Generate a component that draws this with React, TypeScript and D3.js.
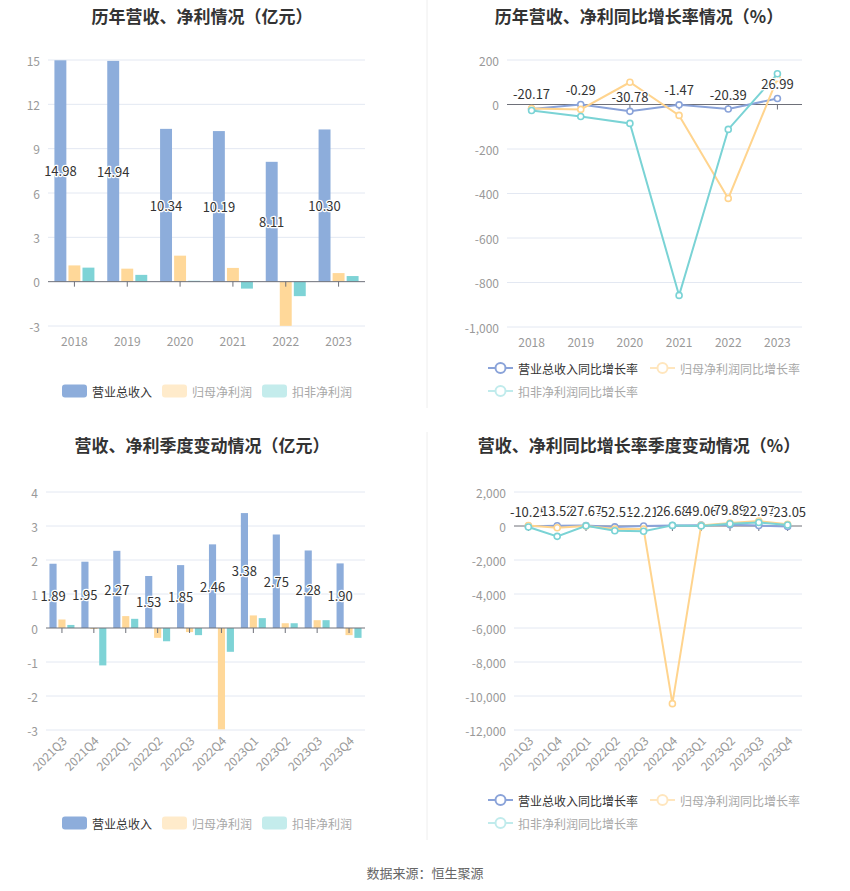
import React from 'react';
import * as d3 from 'd3';

const years = ['2018', '2019', '2020', '2021', '2022', '2023'];
const revenue = [14.98, 14.94, 10.34, 10.19, 8.11, 10.30];
const netProfit = [1.10, 0.88, 1.76, 0.93, -2.99, 0.58];
const deducted = [0.95, 0.46, 0.06, -0.47, -0.98, 0.38];

const revenueGrowth = [-20.17, -0.29, -30.78, -1.47, -20.39, 26.99];
const netProfitGrowth = [-18, -22, 100, -49, -422, 117];
const deductedGrowth = [-27, -54, -85, -858, -112, 138];

const quarters = ['2021Q3', '2021Q4', '2022Q1', '2022Q2', '2022Q3', '2022Q4', '2023Q1', '2023Q2', '2023Q3', '2023Q4'];
const qRevenue = [1.89, 1.95, 2.27, 1.53, 1.85, 2.46, 3.38, 2.75, 2.28, 1.90];
const qNetProfit = [0.25, -0.03, 0.35, -0.29, -0.12, -2.98, 0.37, 0.14, 0.23, -0.21];
const qDeducted = [0.09, -1.10, 0.27, -0.39, -0.21, -0.70, 0.29, 0.14, 0.23, -0.29];

const qRevenueGrowth = [-10.25, 13.52, 27.67, -52.51, -2.21, 26.68, 49.06, 79.89, 22.97, -23.05];
const qNetProfitGrowth = [30, -100, 0, -180, -180, -10450, 40, 180, 290, 100];
const qDeductedGrowth = [-60, -610, 10, -275, -310, 36, 7, 136, 209, 59];

const barTicksA = [-3, 0, 3, 6, 9, 12, 15];
const lineTicksA = [-1000, -800, -600, -400, -200, 0, 200];
const barTicksB = [-3, -2, -1, 0, 1, 2, 3, 4];
const lineTicksB = [-12000, -10000, -8000, -6000, -4000, -2000, 0, 2000];

const seriesNames = ['营业总收入', '归母净利润', '扣非净利润'];
const lineNames = ['营业总收入同比增长率', '归母净利润同比增长率', '扣非净利润同比增长率'];

const BLUE = '#8DADDB';
const YELLOW = '#FFD899';
const CYAN = '#7ED3D6';
const LBLUE = '#8AA3D9';
const LYELLOW = '#FFD48E';
const LCYAN = '#7AD3D5';
const COLORS = [BLUE, YELLOW, CYAN];
const FONT = '"Noto Sans CJK SC", "Noto Sans", sans-serif';
const GRID = '#E3E8F2';
const AXIS = '#6E7079';

const fmt = (v: number) => {
  const s = Math.abs(v).toLocaleString('en-US');
  return (v < 0 ? '-' : '') + s;
};

type BarProps = {
  x0: number; x1: number; yTop: number; yBot: number;
  domain: [number, number]; ticks: number[]; cats: string[];
  data: number[][]; groupHalf: number; pad: number; rotate: boolean;
};

function BarChart(p: BarProps) {
  const x = d3.scaleBand<string>().domain(p.cats).range([p.x0, p.x1]);
  const y = d3.scaleLinear().domain(p.domain).range([p.yBot, p.yTop]);
  const inner = d3.scaleBand<string>().domain(['0', '1', '2']).range([-p.groupHalf, p.groupHalf]).paddingInner(p.pad);
  const y0 = y(0);
  return (
    <g>
      {p.ticks.map((t) => (
        <g key={t}>
          {t !== 0 && <line x1={p.x0} x2={p.x1} y1={y(t)} y2={y(t)} stroke={GRID} strokeWidth={1} />}
          <text x={p.x0 - 8} y={y(t)} textAnchor="end" dominantBaseline="central" fontSize={12} fill="#999">{fmt(t)}</text>
        </g>
      ))}
      {p.data.map((series, si) =>
        series.map((v, i) => {
          const cx = (x(p.cats[i]) as number) + x.bandwidth() / 2;
          const bx = cx + (inner(String(si)) as number);
          const yy = y(v);
          return (
            <rect key={si + '-' + i} x={bx} width={inner.bandwidth()} y={Math.min(yy, y0)} height={Math.abs(yy - y0)} fill={COLORS[si]} />
          );
        })
      )}
      <line x1={p.x0} x2={p.x1} y1={y0} y2={y0} stroke={AXIS} strokeWidth={1} />
      {p.cats.map((c) => {
        const cx = (x(c) as number) + x.bandwidth() / 2;
        return <line key={c} x1={cx} x2={cx} y1={y0} y2={y0 + 5} stroke={AXIS} strokeWidth={1} />;
      })}
      {p.data[0].map((v, i) => {
        const cx = (x(p.cats[i]) as number) + x.bandwidth() / 2 + (inner('0') as number) + inner.bandwidth() / 2;
        return (
          <text key={'l' + i} x={cx} y={(y(v) + y0) / 2} textAnchor="middle" dominantBaseline="central" fontSize={13}
            fill="#333" stroke="#fff" strokeWidth={2.5} paintOrder="stroke" strokeLinejoin="round">{v.toFixed(2)}</text>
        );
      })}
      {p.cats.map((c) => {
        const cx = (x(c) as number) + x.bandwidth() / 2;
        return p.rotate ? (
          <text key={'x' + c} transform={`translate(${cx + 2},${p.yBot + 8}) rotate(-45)`} textAnchor="end" dominantBaseline="central" fontSize={12} fill="#999">{c}</text>
        ) : (
          <text key={'x' + c} x={cx} y={p.yBot + 14} textAnchor="middle" dominantBaseline="central" fontSize={12} fill="#999">{c}</text>
        );
      })}
    </g>
  );
}

type LineProps = {
  x0: number; x1: number; yTop: number; yBot: number;
  domain: [number, number]; ticks: number[]; cats: string[];
  data: number[][]; rotate: boolean;
};

function LineChart(p: LineProps) {
  const x = d3.scaleBand<string>().domain(p.cats).range([p.x0, p.x1]);
  const y = d3.scaleLinear().domain(p.domain).range([p.yBot, p.yTop]);
  const y0 = y(0);
  const cxOf = (i: number) => (x(p.cats[i]) as number) + x.bandwidth() / 2;
  const line = d3.line<number>().x((_, i) => cxOf(i)).y((v) => y(v));
  const lc = [LBLUE, LYELLOW, LCYAN];
  const order = [0, 1, 2];
  return (
    <g>
      {p.ticks.map((t) => (
        <g key={t}>
          {t !== 0 && <line x1={p.x0} x2={p.x1} y1={y(t)} y2={y(t)} stroke={GRID} strokeWidth={1} />}
          <text x={p.x0 - 8} y={y(t)} textAnchor="end" dominantBaseline="central" fontSize={12} fill="#999">{fmt(t)}</text>
        </g>
      ))}
      <line x1={p.x0} x2={p.x1} y1={y0} y2={y0} stroke={AXIS} strokeWidth={1} />
      {p.cats.map((c, i) => (
        <line key={c} x1={cxOf(i)} x2={cxOf(i)} y1={y0} y2={y0 + 5} stroke={AXIS} strokeWidth={1} />
      ))}
      {order.map((si) => (
        <g key={si}>
          <path d={line(p.data[si]) as string} fill="none" stroke={lc[si]} strokeWidth={2} />
          {p.data[si].map((v, i) => (
            <circle key={i} cx={cxOf(i)} cy={y(v)} r={3} fill="#fff" stroke={lc[si]} strokeWidth={1.6} />
          ))}
        </g>
      ))}
      {p.data[0].map((v, i) => (
        <text key={'l' + i} x={cxOf(i)} y={y(v) - 15} textAnchor="middle" dominantBaseline="central" fontSize={13}
          fill="#333" stroke="#fff" strokeWidth={2.5} paintOrder="stroke" strokeLinejoin="round">{v.toFixed(2)}</text>
      ))}
      {p.cats.map((c, i) => {
        const cx = cxOf(i);
        return p.rotate ? (
          <text key={'x' + c} transform={`translate(${cx + 2},${p.yBot + 8}) rotate(-45)`} textAnchor="end" dominantBaseline="central" fontSize={12} fill="#999">{c}</text>
        ) : (
          <text key={'x' + c} x={cx} y={p.yBot + 14} textAnchor="middle" dominantBaseline="central" fontSize={12} fill="#999">{c}</text>
        );
      })}
    </g>
  );
}

function BarLegend({ x, y }: { x: number; y: number }) {
  const fills = [BLUE, '#FFEBCB', '#C4ECEC'];
  const texts = ['#333', '#A8A8A8', '#A8A8A8'];
  return (
    <g>
      {seriesNames.map((n, i) => (
        <g key={n} transform={`translate(${x + i * 100},${y})`}>
          <rect x={0} y={-6.5} width={25} height={13} rx={3} fill={fills[i]} />
          <text x={30} y={0} dominantBaseline="central" fontSize={12} fill={texts[i]}>{n}</text>
        </g>
      ))}
    </g>
  );
}

function LineLegend({ x, y }: { x: number; y: number }) {
  const cols = [LBLUE, '#FFE6BE', '#C0EBEC'];
  const texts = ['#333', '#A8A8A8', '#A8A8A8'];
  const pos = [[x, y], [x + 162, y], [x, y + 23]];
  return (
    <g>
      {lineNames.map((n, i) => (
        <g key={n} transform={`translate(${pos[i][0]},${pos[i][1]})`}>
          <line x1={0} x2={25} y1={0} y2={0} stroke={cols[i]} strokeWidth={2} />
          <circle cx={12.5} cy={0} r={5} fill="#fff" stroke={cols[i]} strokeWidth={2} />
          <text x={30} y={0} dominantBaseline="central" fontSize={12} fill={texts[i]}>{n}</text>
        </g>
      ))}
    </g>
  );
}

export default function App() {
  return (
    <div style={{ position: 'absolute', left: 0, top: 0 }}>
      <svg width={850} height={891} style={{ display: 'block', fontFamily: FONT, background: '#fff' }}>
        <line x1={427} x2={427} y1={0} y2={408} stroke="#EEEEEE" strokeWidth={1} />
        <line x1={427} x2={427} y1={432} y2={840} stroke="#EEEEEE" strokeWidth={1} />

        <text x={202} y={15} textAnchor="middle" dominantBaseline="central" fontSize={17} fontWeight="bold" fill="#333">历年营收、净利情况（亿元）</text>
        <text x={639} y={15} textAnchor="middle" dominantBaseline="central" fontSize={17} fontWeight="bold" fill="#333">历年营收、净利同比增长率情况（%）</text>
        <text x={202} y={444} textAnchor="middle" dominantBaseline="central" fontSize={17} fontWeight="bold" fill="#333">营收、净利季度变动情况（亿元）</text>
        <text x={639} y={444} textAnchor="middle" dominantBaseline="central" fontSize={17} fontWeight="bold" fill="#333">营收、净利同比增长率季度变动情况（%）</text>

        <BarChart x0={48} x1={365} yTop={60} yBot={326} domain={[-3, 15]} ticks={barTicksA} cats={years}
          data={[revenue, netProfit, deducted]} groupHalf={20} pad={0.15} rotate={false} />
        <LineChart x0={507} x1={802} yTop={60} yBot={327} domain={[-1000, 200]} ticks={lineTicksA} cats={years}
          data={[revenueGrowth, netProfitGrowth, deductedGrowth]} rotate={false} />
        <BarChart x0={46} x1={365} yTop={492} yBot={730} domain={[-3, 4]} ticks={barTicksB} cats={quarters}
          data={[qRevenue, qNetProfit, qDeducted]} groupHalf={12.5} pad={0.2} rotate={true} />
        <LineChart x0={514} x1={802} yTop={492} yBot={730} domain={[-12000, 2000]} ticks={lineTicksB} cats={quarters}
          data={[qRevenueGrowth, qNetProfitGrowth, qDeductedGrowth]} rotate={true} />

        <BarLegend x={62} y={391} />
        <LineLegend x={488} y={368} />
        <BarLegend x={62} y={823} />
        <LineLegend x={488} y={800} />

        <text x={425} y={872} textAnchor="middle" dominantBaseline="central" fontSize={13} fill="#666">数据来源：恒生聚源</text>
      </svg>
    </div>
  );
}
